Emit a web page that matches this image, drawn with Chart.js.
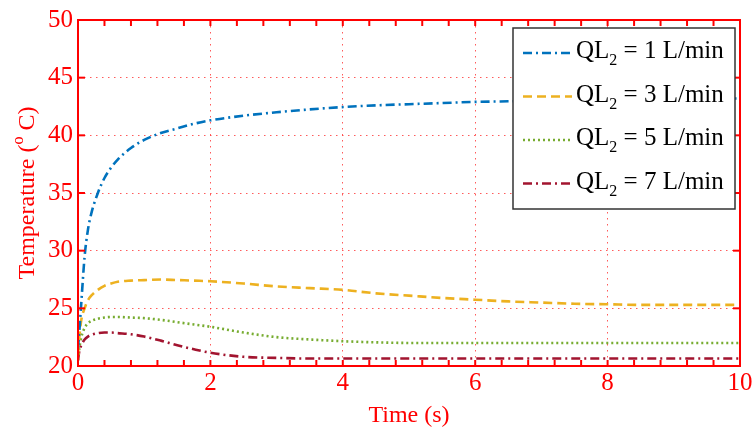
<!DOCTYPE html>
<html>
<head>
<meta charset="utf-8">
<script src="https://cdn.jsdelivr.net/npm/chart.js@4/dist/chart.umd.min.js"></script>
<style>
html, body { margin: 0; padding: 0; background: #fff; }
</style>
</head>
<body>
<canvas id="myChart" width="756" height="432"></canvas>
<script>
// data
const timeS   = [0, 0.02, 0.05, 0.1, 0.15, 0.2, 0.3, 0.4, 0.5, 0.6, 0.8, 1, 1.25, 1.5, 1.75, 2, 2.5, 3, 3.5, 4, 4.5, 5, 5.5, 6, 6.5, 7, 7.5, 8, 8.5, 9, 9.5, 10];
const ql1Temp = [21.5, 23, 25.5, 29.5, 31.8, 33.2, 35.0, 36.3, 37.2, 37.9, 38.9, 39.6, 40.2, 40.6, 41.0, 41.3, 41.7, 42.0, 42.25, 42.45, 42.6, 42.7, 42.8, 42.9, 42.95, 43.0, 43.05, 43.1, 43.1, 43.15, 43.2, 43.2];
const ql3Temp = [21, 22.5, 24, 25.0, 25.7, 26.1, 26.6, 26.95, 27.15, 27.3, 27.4, 27.45, 27.5, 27.45, 27.4, 27.35, 27.15, 26.9, 26.75, 26.6, 26.3, 26.1, 25.9, 25.75, 25.6, 25.5, 25.4, 25.35, 25.3, 25.3, 25.3, 25.3];
const ql5Temp = [20.5, 21.5, 22.5, 23.3, 23.7, 23.9, 24.1, 24.2, 24.25, 24.25, 24.2, 24.15, 24.0, 23.8, 23.6, 23.4, 22.9, 22.5, 22.3, 22.15, 22.05, 22.0, 22.0, 22.0, 22.0, 22.0, 22.0, 22.0, 22.0, 22.0, 22.0, 22.0];
const ql7Temp = [20.5, 21.3, 21.8, 22.3, 22.55, 22.7, 22.85, 22.9, 22.9, 22.85, 22.75, 22.55, 22.2, 21.8, 21.45, 21.15, 20.8, 20.7, 20.65, 20.65, 20.65, 20.65, 20.65, 20.65, 20.65, 20.65, 20.65, 20.65, 20.65, 20.65, 20.65, 20.65];
const seriesNames = ['1', '3', '5', '7'];
const xTicks = [0, 2, 4, 6, 8, 10];
const yTicks = [20, 25, 30, 35, 40, 45, 50];

const RED = '#ff0000';
const FONT = '"Liberation Serif", "Times New Roman", serif';
const colors = ['#0072bd', '#edb120', '#77ac30', '#a2142f'];
const dashes = [[9, 4, 2, 4], [9, 5], [2, 3], [9, 4, 2, 4]];

const canvas = document.getElementById('myChart');

function pts(ys) {
	return timeS.map((t, i) => ({x: t, y: ys[i]}));
}

const allSeries = [ql1Temp, ql3Temp, ql5Temp, ql7Temp];
const datasets = allSeries.map((s, i) => ({
	label: 'QL2 = ' + seriesNames[i] + ' L/min',
	data: pts(s),
	borderColor: colors[i],
	borderWidth: 2.6,
	borderDash: dashes[i],
	pointRadius: 0,
	fill: false,
	cubicInterpolationMode: 'monotone'
}));

function seg(ctx, x1, y1, x2, y2) {
	ctx.beginPath();
	ctx.moveTo(x1, y1);
	ctx.lineTo(x2, y2);
	ctx.stroke();
}

// box, inward ticks, legend and y title like the MATLAB figure
const matlabBits = {
	id: 'matlabBits',
	afterDatasetsDraw(chart) {
		const ctx = chart.ctx;
		const a = chart.chartArea;
		const xs = chart.scales.x, ys = chart.scales.y;
		ctx.save();
		ctx.strokeStyle = RED;
		ctx.lineWidth = 2;
		ctx.setLineDash([]);
		ctx.strokeRect(a.left, a.top, a.right - a.left, a.bottom - a.top);
		for (let i = 0; i <= 25; i++) {
			const px = xs.getPixelForValue(i * 0.4);
			seg(ctx, px, a.bottom, px, a.bottom - 6);
			seg(ctx, px, a.top, px, a.top + 6);
		}
		for (let v of yTicks) {
			const py = ys.getPixelForValue(v);
			seg(ctx, a.left, py, a.left + 7, py);
			seg(ctx, a.right, py, a.right - 7, py);
		}

		// legend
		const lx = 513, ly = 28, lw = 222, lh = 181;
		ctx.fillStyle = '#fff';
		ctx.fillRect(lx, ly, lw, lh);
		ctx.strokeStyle = '#333';
		ctx.lineWidth = 1.5;
		ctx.strokeRect(lx, ly, lw, lh);
		for (let i = 0; i < 4; i++) {
			const y = 53 + i * 43.5;
			ctx.strokeStyle = colors[i];
			ctx.lineWidth = 2.6;
			ctx.setLineDash(dashes[i]);
			seg(ctx, 523, y, 572, y);
			ctx.setLineDash([]);
			ctx.fillStyle = '#000';
			ctx.textBaseline = 'alphabetic';
			ctx.textAlign = 'left';
			ctx.font = '25px ' + FONT;
			let x = 576;
			const base = y + 5;
			ctx.fillText('QL', x, base);
			x += ctx.measureText('QL').width;
			ctx.font = '16px ' + FONT;
			ctx.fillText('2', x, base + 7);
			x += ctx.measureText('2').width;
			ctx.font = '25px ' + FONT;
			ctx.fillText(' = ' + seriesNames[i] + ' L/min', x, base);
		}

		// y axis title with superscript o
		ctx.translate(28, (a.top + a.bottom) / 2);
		ctx.rotate(-Math.PI / 2);
		ctx.fillStyle = RED;
		ctx.textBaseline = 'middle';
		ctx.textAlign = 'left';
		ctx.font = '24px ' + FONT;
		const p1 = 'Temperature (', p3 = ' C)';
		const w1 = ctx.measureText(p1).width, w3 = ctx.measureText(p3).width;
		ctx.font = '16px ' + FONT;
		const w2 = ctx.measureText('o').width;
		let sx = -(w1 + w2 + w3) / 2;
		ctx.font = '24px ' + FONT;
		ctx.fillText(p1, sx, 0);
		sx += w1;
		ctx.font = '16px ' + FONT;
		ctx.fillText('o', sx, -9);
		sx += w2;
		ctx.font = '24px ' + FONT;
		ctx.fillText(p3, sx, 0);
		ctx.restore();
	}
};

const myChart = new Chart(canvas, {
	type: 'line',
	data: { datasets: datasets },
	plugins: [matlabBits],
	options: {
		responsive: false,
		animation: false,
		layout: { padding: { left: 0, right: 16, top: 20, bottom: 0 } },
		plugins: {
			legend: { display: false },
			tooltip: { enabled: false }
		},
		scales: {
			x: {
				type: 'linear',
				min: 0,
				max: 10,
				afterFit: (s) => { s.height = 66; },
				afterBuildTicks: (s) => { s.ticks = xTicks.map(v => ({value: v})); },
				ticks: { color: RED, font: { family: FONT, size: 25 }, padding: 2, maxRotation: 0 },
				grid: { color: 'rgba(255,50,50,0.8)', lineWidth: 1, drawTicks: false },
				border: { display: false, dash: [1.5, 4.5] },
				title: { display: true, text: 'Time (s)', color: RED, font: { family: FONT, size: 24 }, padding: { top: 0, bottom: 2 } }
			},
			y: {
				min: 20,
				max: 50,
				afterFit: (s) => { s.width = 78; },
				afterBuildTicks: (s) => { s.ticks = yTicks.map(v => ({value: v})); },
				ticks: { color: RED, font: { family: FONT, size: 25 }, padding: 5 },
				grid: { color: 'rgba(255,50,50,0.8)', lineWidth: 1, drawTicks: false },
				border: { display: false, dash: [1.5, 4.5] }
			}
		}
	}
});
</script>
</body>
</html>
